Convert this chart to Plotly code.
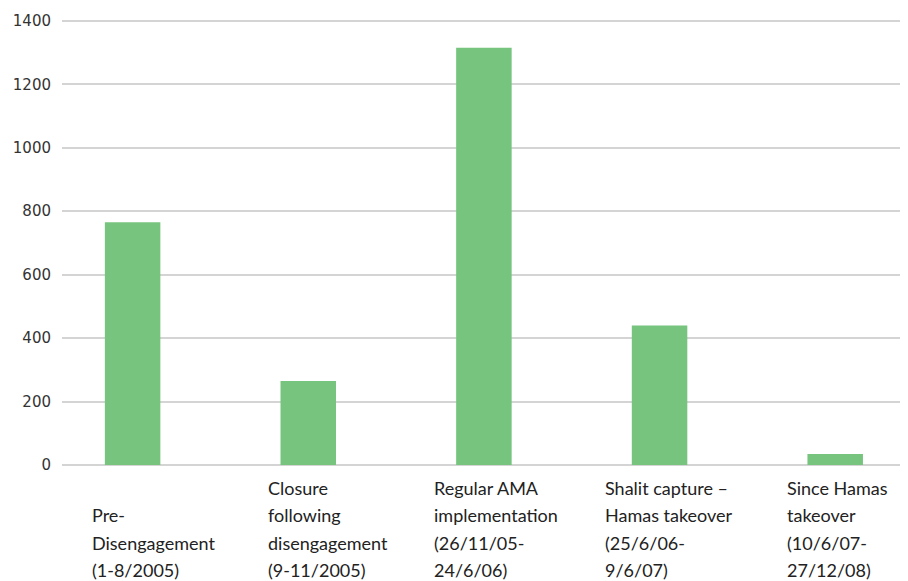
import plotly.graph_objects as go

categories = [
    "Pre-\nDisengagement\n(1-8/2005)",
    "Closure\nfollowing\ndisengagement\n(9-11/2005)",
    "Regular AMA\nimplementation\n(26/11/05-\n24/6/06)",
    "Shalit capture –\nHamas takeover\n(25/6/06-\n9/6/07)",
    "Since Hamas\ntakeover\n(10/6/07-\n27/12/08)",
]
values = [765, 265, 1315, 440, 35]
y_ticks = [0, 200, 400, 600, 800, 1000, 1200, 1400]

label_xshift = [-43, -42, -52, -57, -50]

xs = list(range(len(categories)))

fig = go.Figure()
fig.add_trace(go.Bar(
    x=xs, y=values, width=0.316,
    marker=dict(color="#77c47e", line=dict(width=0)),
    hoverinfo="skip",
))

annotations = []
line_h = 27.5
for i, lab in enumerate(categories):
    lines = lab.split("\n")
    n = len(lines)
    for j, ln in enumerate(lines):
        k = n - 1 - j
        annotations.append(dict(
            x=i, xref="x", y=0, yref="y",
            text=ln, showarrow=False,
            xanchor="left", yanchor="bottom",
            xshift=label_xshift[i],
            yshift=-118 + k * line_h,
            font=dict(family="Lato", size=18, color="#222222"),
        ))

fig.update_layout(
    width=908, height=581,
    margin=dict(l=54, r=0, t=10, b=124),
    paper_bgcolor="white", plot_bgcolor="white",
    showlegend=False,
    annotations=annotations,
    xaxis=dict(range=[-0.402, 4.46], showticklabels=False, showgrid=False,
               zeroline=False, showline=False, ticks=""),
    yaxis=dict(range=[0, 1409], tickvals=y_ticks, showgrid=True,
               gridcolor="#d4d4d4", gridwidth=2, zeroline=True,
               zerolinecolor="#d4d4d4", zerolinewidth=2,
               showline=False, ticks="", ticklabelstandoff=10,
               tickfont=dict(family="DejaVu Sans", size=15, color="#333333")),
)

fig.write_html("out.html")
